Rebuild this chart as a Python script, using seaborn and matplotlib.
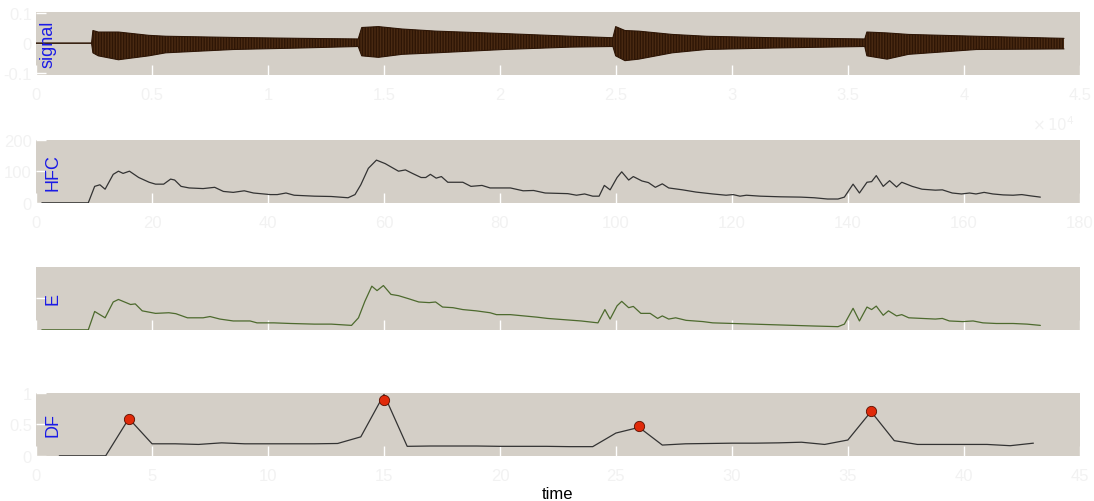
import numpy as np
import matplotlib
matplotlib.use('Agg')
import matplotlib.pyplot as plt
import seaborn as sns

# signal envelope (sample index, upper / lower amplitude)
sig_x = [0, 2390, 2450, 2680, 3550, 4860, 5590, 8500, 11400, 13890, 14040, 14760,
         15780, 17240, 20150, 23060, 24870, 24990, 25390, 25980, 27430, 28890,
         31800, 35730, 35820, 36690, 37620, 40540, 44320]
sig_top = [0, 0, 0.042, 0.037, 0.037, 0.026, 0.023, 0.019, 0.016, 0.014, 0.052, 0.055,
           0.047, 0.040, 0.032, 0.023, 0.018, 0.055, 0.042, 0.040, 0.029, 0.023,
           0.018, 0.014, 0.037, 0.034, 0.029, 0.023, 0.016]
sig_bot = [0, 0, -0.032, -0.042, -0.055, -0.042, -0.032, -0.021, -0.016, -0.011, -0.042, -0.047,
           -0.037, -0.032, -0.021, -0.013, -0.011, -0.042, -0.058, -0.053, -0.032, -0.021,
           -0.016, -0.011, -0.042, -0.053, -0.037, -0.021, -0.019]
sig_ticks = ['0', '0.5', '1', '1.5', '2', '2.5', '3', '3.5', '4', '4.5']

# high frequency content
hfc_x = [1, 9, 10.1, 11, 11.9, 13.3, 14.2, 15, 16.1, 17.7, 19.5, 20.6, 22, 23.2, 23.9,
         25, 26.4, 28.8, 30.8, 32.3, 34, 35.9, 37.5, 40.4, 41.6, 43.1, 44.5, 48, 50.9,
         53.8, 55, 56, 57.3, 58.7, 60.2, 62.5, 63.7, 64.9, 66.4, 67.2, 68, 69, 69.9, 71,
         73.6, 75, 76.9, 78.3, 81.8, 84, 85.8, 87.8, 91.7, 93.2, 94.6, 96, 97.1, 98, 99,
         100.2, 101, 102.2, 103, 104.5, 105.6, 106.8, 108, 109.1, 111.5, 113.8, 116.7,
         119, 120.2, 121.4, 122.5, 124.9, 128.4, 131.9, 134.2, 136.5, 138.3, 139.4,
         140.9, 142, 143.3, 144.1, 144.9, 146.1, 147.2, 148.4, 149.3, 151.1, 152.8,
         155.1, 156.3, 158, 159.6, 161, 162.1, 163.5, 165, 166.8, 168.5, 170, 171.5, 173.2]
hfc_y = [0, 0, 52, 57, 43, 90, 100, 93, 100, 80, 65, 59, 59, 75, 72,
         52, 47, 45, 49, 36, 33, 38, 31, 26, 26, 31, 24, 21, 20,
         16, 26, 57, 109, 135, 124, 100, 104, 93, 80, 80, 90, 78, 83, 65,
         65, 52, 55, 47, 47, 38, 39, 31, 29, 24, 28, 21, 21, 55, 41,
         80, 98, 72, 83, 69, 64, 49, 60, 47, 41, 34, 28,
         24, 26, 21, 24, 21, 19, 18, 16, 12, 12, 18,
         59, 31, 65, 67, 86, 52, 70, 50, 65, 52, 43,
         40, 41, 31, 28, 31, 28, 33, 28, 25, 24, 26, 22, 18]

# energy
e_x = [1, 9, 10.1, 11.9, 13.3, 14.2, 16.3, 17.1, 18.3, 20.6, 22.9, 24.1, 26.1, 28.8,
       30, 31.7, 34, 36.9, 38.1, 41, 43.9, 48, 50.9, 54.4, 55.6, 56.7, 57.9, 58.8,
       59.9, 61.2, 62.5, 64.3, 66, 67.8, 68.9, 70.1, 71.9, 73.6, 75.9, 78.3, 79.4,
       81.8, 84.1, 86.4, 88.2, 91.1, 94, 96.9, 98.1, 99, 100.2, 101, 102.2, 103,
       104.3, 105.9, 107.2, 108, 109.1, 110.3, 112.1, 115, 116.7, 120.2, 123.7,
       127.2, 130.7, 134.2, 138.3, 139.4, 140.9, 142, 143.3, 144.1, 144.9, 146.1,
       147, 148.4, 149.3, 150.5, 152.8, 155.1, 156.3, 157.5, 159.8, 161.6, 163.3,
       165.6, 168.5, 170.9, 173.2]
e_y = [0, 0, 0.29, 0.19, 0.44, 0.48, 0.40, 0.41, 0.30, 0.26, 0.27, 0.255, 0.19, 0.19,
       0.21, 0.17, 0.14, 0.14, 0.11, 0.11, 0.10, 0.09, 0.09, 0.07, 0.19, 0.45, 0.69, 0.62,
       0.70, 0.56, 0.54, 0.49, 0.44, 0.43, 0.44, 0.36, 0.35, 0.32, 0.30, 0.27, 0.24,
       0.24, 0.22, 0.20, 0.18, 0.16, 0.14, 0.11, 0.32, 0.17, 0.38, 0.45, 0.35, 0.37,
       0.26, 0.26, 0.18, 0.22, 0.17, 0.19, 0.15, 0.13, 0.11, 0.10, 0.09,
       0.08, 0.07, 0.06, 0.05, 0.09, 0.34, 0.14, 0.36, 0.32, 0.375, 0.23,
       0.30, 0.22, 0.24, 0.19, 0.18, 0.17, 0.18, 0.14, 0.13, 0.14, 0.11,
       0.10, 0.10, 0.09, 0.07]

# detection function and picked onsets
df_x = list(range(1, 44))
df_y = [0, 0, 0, 0.59, 0.19, 0.19, 0.18, 0.205, 0.19, 0.19, 0.19, 0.19, 0.195, 0.30,
        0.97, 0.15, 0.155, 0.155, 0.155, 0.15, 0.15, 0.15, 0.145, 0.145, 0.36, 0.45,
        0.17, 0.19, 0.195, 0.2, 0.2, 0.205, 0.215, 0.18, 0.25, 0.70, 0.24, 0.18, 0.18,
        0.18, 0.18, 0.16, 0.20]
peak_x = [4, 15, 26, 36]
peak_y = [0.58, 0.88, 0.47, 0.71]

sns.set_style('white', {'axes.facecolor': '#d4cfc7'})
plt.rcParams['font.family'] = ['Liberation Sans', 'DejaVu Sans']

fig = plt.figure(figsize=(10.94, 5.02), dpi=100)
L, W, H = 0.033, 0.954, 0.126
ax1 = fig.add_axes([L, 0.849, W, H])
ax2 = fig.add_axes([L, 0.594, W, H])
ax3 = fig.add_axes([L, 0.341, W, H])
ax4 = fig.add_axes([L, 0.090, W, H])

tick_col = '#f2f2f2'
lab_col = '#1a1ae6'


def style(ax, label, lab_x):
    for s in ax.spines.values():
        s.set_visible(False)
    ax.tick_params(direction='in', length=7, width=1, color='white',
                   labelcolor=tick_col, labelsize=12, bottom=True, left=True)
    ax.tick_params(axis='x', pad=9)
    ax.tick_params(axis='y', pad=3)
    ax.set_xlabel('')
    ax.set_ylabel('')
    ax.text(lab_x, 0.5, label, transform=ax.transAxes, rotation=90,
            va='center', ha='left', color=lab_col, fontsize=13)


# signal
ax1.fill_between(sig_x, sig_bot, sig_top, facecolor='#4a2a12', edgecolor='#2e1606',
                 hatch='||||||', linewidth=0)
sns.lineplot(x=sig_x, y=sig_top, ax=ax1, color='#2e1606', lw=0.8, sort=False, estimator=None)
sns.lineplot(x=sig_x, y=sig_bot, ax=ax1, color='#2e1606', lw=0.8, sort=False, estimator=None)
ax1.set_xlim(0, 45000)
ax1.set_ylim(-0.105, 0.105)
ax1.set_xticks(np.arange(0, 45001, 5000))
ax1.set_xticklabels(sig_ticks)
ax1.set_yticks([-0.1, 0, 0.1])
ax1.set_yticklabels(['-0.1', '0', '0.1'])
ax1.text(0.995, -0.62, r'$\times\,10^4$', transform=ax1.transAxes, ha='right',
         va='top', color=tick_col, fontsize=11)
style(ax1, 'signal', 0.003)

# HFC
sns.lineplot(x=hfc_x, y=hfc_y, ax=ax2, color='#333333', lw=0.9, sort=False, estimator=None)
ax2.set_xlim(0, 180)
ax2.set_ylim(0, 200)
ax2.set_xticks(np.arange(0, 181, 20))
ax2.set_yticks([0, 100, 200])
style(ax2, 'HFC', 0.008)

# energy
sns.lineplot(x=e_x, y=e_y, ax=ax3, color='#4d6a2e', lw=0.9, sort=False, estimator=None)
ax3.set_xlim(0, 180)
ax3.set_ylim(0, 1)
ax3.set_xticks(np.arange(0, 181, 20))
ax3.set_yticks([0.5])
ax3.set_xticklabels([])
ax3.set_yticklabels([])
style(ax3, 'E', 0.008)

# detection function
sns.lineplot(x=df_x, y=df_y, ax=ax4, color='#333333', lw=0.9, sort=False, estimator=None)
sns.scatterplot(x=peak_x, y=peak_y, ax=ax4, color='#e02a0a', edgecolor='#5a1000',
                linewidth=0.6, s=55, zorder=5)
ax4.set_xlim(0, 45)
ax4.set_ylim(0, 1)
ax4.set_xticks(np.arange(0, 46, 5))
ax4.set_yticks([0, 0.5, 1])
ax4.set_yticklabels(['0', '0.5', '1'])
style(ax4, 'DF', 0.008)
ax4.set_xlabel('time', fontsize=12, color='black', labelpad=2)

fig.savefig('out.png', dpi=100)
